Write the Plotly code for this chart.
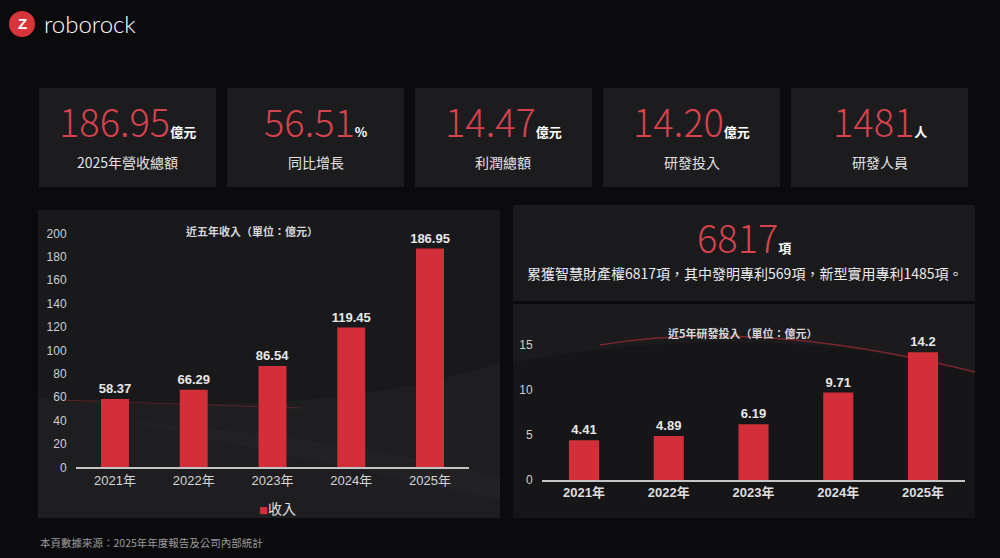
import plotly.graph_objects as go

W, H = 1000, 558

# chart data
years = ["2021年", "2022年", "2023年", "2024年", "2025年"]
revenue = [58.37, 66.29, 86.54, 119.45, 186.95]
rd_spend = [4.41, 4.89, 6.19, 9.71, 14.2]

# kpi cards
kpi_values = ["186.95", "56.51", "14.47", "14.20", "1481"]
kpi_units = ["億元", "%", "億元", "億元", "人"]
kpi_labels = ["2025年營收總額", "同比增長", "利潤總額", "研發投入", "研發人員"]

patent_total = "6817"
patent_unit = "項"
patent_text = "累獲智慧財產權6817項，其中發明專利569項，新型實用專利1485項。"

RED = "#d22f3b"
CJK = "Noto Sans CJK TC"
SANS = "Liberation Sans"
MIXED = "Liberation Sans, Noto Sans CJK TC"


def fx(x):
    return x / W


def fy(y):
    return 1 - y / H


def pt(p):
    return f"{fx(p[0]):.4f},{fy(p[1]):.4f}"


def rect(x0, y0, x1, y1, color):
    return dict(type="rect", xref="paper", yref="paper", layer="below",
                x0=fx(x0), x1=fx(x1), y0=fy(y1), y1=fy(y0),
                fillcolor=color, line=dict(width=0))


def curve(start, ctrl, end, tail=None, fill=None, line=None, width=0):
    # quadratic curve, optionally closed back through the tail points
    d = f"M {pt(start)} Q {pt(ctrl)} {pt(end)}"
    if tail:
        d += " " + " ".join(f"L {pt(p)}" for p in tail) + " Z"
    return dict(type="path", xref="paper", yref="paper", layer="below", path=d,
                fillcolor=fill or "rgba(0,0,0,0)",
                line=dict(color=line or "rgba(0,0,0,0)", width=width))


fig = go.Figure()

fig.add_trace(go.Bar(
    x=years, y=revenue, xaxis="x", yaxis="y", name="收入",
    marker=dict(color=RED, line=dict(width=0)),
    text=[f"{v:g}" for v in revenue], textposition="outside",
    textfont=dict(family=SANS, size=13, color="#e8e8e8", weight="bold"),
    constraintext="none", cliponaxis=False, showlegend=False,
))
fig.add_trace(go.Bar(
    x=years, y=rd_spend, xaxis="x2", yaxis="y2", name="研發投入",
    marker=dict(color=RED, line=dict(width=0)),
    text=[f"{v:g}" for v in rd_spend], textposition="outside",
    textfont=dict(family=SANS, size=13, color="#e8e8e8", weight="bold"),
    constraintext="none", cliponaxis=False, showlegend=False,
))

shapes = []
# panels
shapes.append(rect(38, 210, 500, 518, "#19191b"))
shapes.append(rect(513, 205, 975, 301, "#1a1a1c"))
shapes.append(rect(513, 304, 975, 518, "#161618"))
# soft swooshes in the background
shapes.append(curve((38, 398), (330, 420), (500, 362), tail=[(500, 518), (38, 518)],
                    fill="rgba(255,255,255,0.025)"))
shapes.append(curve((120, 420), (360, 440), (500, 478), tail=[(500, 500)],
                    fill="rgba(255,255,255,0.02)"))
shapes.append(curve((513, 362), (760, 318), (975, 372), tail=[(975, 304), (513, 304)],
                    fill="rgba(255,255,255,0.025)"))
shapes.append(curve((600, 345), (760, 318), (975, 372), line="rgba(220,50,60,0.5)", width=1.5))
shapes.append(curve((60, 400), (180, 404), (300, 408), line="rgba(220,50,60,0.3)", width=1))

# kpi cards
card_left = [39, 227, 415, 603, 791]
for l in card_left:
    shapes.append(rect(l, 88, l + 177, 187, "#1c1c1e"))

# logo
shapes.append(dict(type="circle", xref="paper", yref="paper",
                   x0=fx(9), x1=fx(35), y0=fy(37), y1=fy(11),
                   fillcolor="#d8343c", line=dict(width=0)))

ann = []
ann.append(dict(x=fx(22), y=fy(24), text="<b>Z</b>", font=dict(family=SANS, size=15, color="white")))
ann.append(dict(x=fx(42), y=fy(23), xanchor="left", text="roborock",
                font=dict(family="Lato", size=24, color="white", weight=300)))

for l, v, u, lab in zip(card_left, kpi_values, kpi_units, kpi_labels):
    cx = l + 88.5
    ann.append(dict(x=fx(cx), y=fy(120),
                    text=f"{v}<span style='font-size:13px;color:#ffffff'><b>{u}</b></span>",
                    font=dict(family=CJK, size=38, color="#d6424e", weight=300)))
    ann.append(dict(x=fx(cx), y=fy(162), text=lab, font=dict(family=CJK, size=14, color="#e2e2e2")))

ann.append(dict(x=fx(744), y=fy(236),
                text=f"{patent_total}<span style='font-size:13px;color:#ffffff'><b>{patent_unit}</b></span>",
                font=dict(family=CJK, size=38, color="#d6424e", weight=300)))
ann.append(dict(x=fx(744), y=fy(273), text=patent_text, font=dict(family=CJK, size=14, color="#ececec")))

ann.append(dict(x=fx(252), y=fy(231), text="<b>近五年收入（單位：億元）</b>",
                font=dict(family=CJK, size=11, color="#d8d8d8")))
ann.append(dict(x=fx(743), y=fy(333), text="<b>近5年研發投入（單位：億元）</b>",
                font=dict(family=CJK, size=11, color="#d8d8d8")))
ann.append(dict(x=fx(277), y=fy(508),
                text=f"<span style='color:{RED};font-size:9px'>■</span>收入",
                font=dict(family=CJK, size=14, color="#e0e0e0")))
ann.append(dict(x=fx(38), y=fy(542), xanchor="left", text="本頁數據來源：2025年年度報告及公司內部統計",
                font=dict(family=CJK, size=10.5, color="#9c9c9c")))

for a in ann:
    a.setdefault("xref", "paper")
    a.setdefault("yref", "paper")
    a.setdefault("xanchor", "center")
    a.setdefault("yanchor", "middle")
    a.setdefault("showarrow", False)

axis_common = dict(showgrid=False, zeroline=False, fixedrange=True, automargin=False)

fig.update_layout(
    width=W, height=H,
    margin=dict(l=0, r=0, t=0, b=0, pad=0, autoexpand=False),
    paper_bgcolor="#0b0b0d", plot_bgcolor="rgba(0,0,0,0)",
    bargap=0.645,
    showlegend=False,
    font=dict(family=CJK, color="#d0d0d0"),
    shapes=shapes, annotations=ann,
    xaxis=dict(domain=[fx(75.6), fx(469.4)], anchor="y", showline=True, linecolor="#c4c4c4", linewidth=1.5,
               tickfont=dict(family=MIXED, size=13, color="#d5d5d5"), **axis_common),
    yaxis=dict(domain=[fy(467.3), fy(233.3)], anchor="x", range=[0, 200], dtick=20,
               tickfont=dict(family=SANS, size=12, color="#cfcfcf"), ticklabelstandoff=8, **axis_common),
    xaxis2=dict(domain=[fx(541.6), fx(965.4)], anchor="y2", showline=True, linecolor="#c4c4c4", linewidth=1.5,
                tickfont=dict(family=MIXED, size=13, color="#dedede", weight="bold"), **axis_common),
    yaxis2=dict(domain=[fy(480), fy(345)], anchor="x2", range=[0, 15], dtick=5,
                tickfont=dict(family=SANS, size=12, color="#cfcfcf"), ticklabelstandoff=8, **axis_common),
)

page = ("document.documentElement.style.overflow='hidden';"
        "document.body.style.margin='0';document.body.style.overflow='hidden';")

fig.write_html("out.html", config={"displayModeBar": False}, post_script=page)
